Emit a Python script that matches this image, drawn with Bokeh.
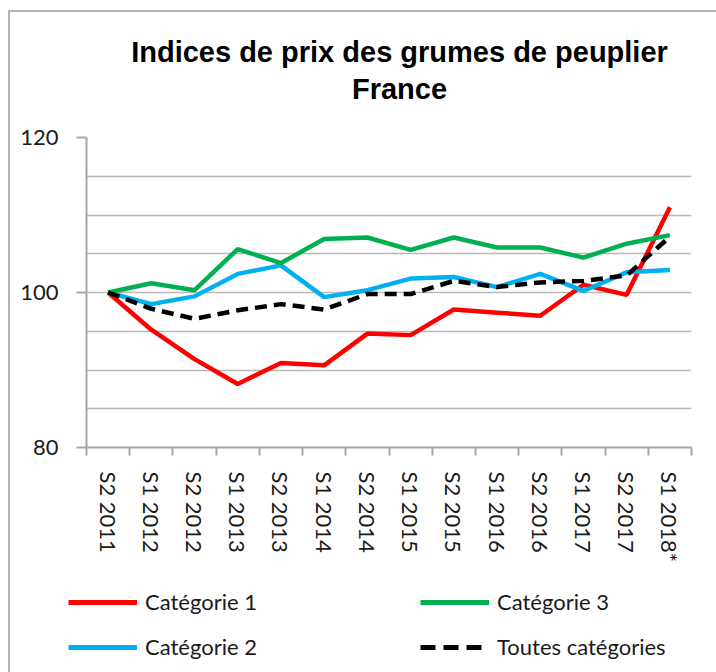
from bokeh.plotting import figure
from bokeh.layouts import column
from bokeh.models import Range1d, FixedTicker, Legend, LegendItem, Label
from bokeh.embed import file_html
from bokeh.resources import INLINE

periods = ["S2 2011", "S1 2012", "S2 2012", "S1 2013", "S2 2013", "S1 2014", "S2 2014",
           "S1 2015", "S2 2015", "S1 2016", "S2 2016", "S1 2017", "S2 2017", "S1 2018*"]
cat1 = [100, 95.2, 91.4, 88.2, 90.9, 90.6, 94.7, 94.5, 97.8, 97.4, 97.0, 101.0, 99.7, 111.0]
cat2 = [100, 98.5, 99.5, 102.4, 103.5, 99.4, 100.3, 101.8, 102.0, 100.7, 102.4, 100.2, 102.6, 102.9]
cat3 = [100, 101.2, 100.3, 105.6, 103.8, 106.9, 107.1, 105.5, 107.1, 105.8, 105.8, 104.5, 106.3, 107.4]
toutes = [100, 97.9, 96.6, 97.7, 98.5, 97.8, 99.8, 99.8, 101.5, 100.7, 101.3, 101.5, 102.2, 107.2]
y_major = [80, 100, 120]
y_minor = [85, 90, 95, 105, 110, 115]
title_text = "Indices de prix des grumes de peuplier\nFrance"

n = len(periods)
x = list(range(n))

W = 706
colors = dict(red="#ff0000", blue="#00b0f0", green="#00b050", black="#000000")
lw = 4.5
dash = "12 7"

# ---- title strip ----
tfig = figure(width=W, height=110, output_backend="svg", toolbar_location=None,
              x_axis_type=None, y_axis_type=None, x_range=Range1d(0, 1), y_range=Range1d(0, 1),
              min_border=0, title=None, frame_align=False)
tfig.outline_line_color = None
tfig.grid.visible = False
tfig.add_layout(Label(x=389, y=52, x_units="screen", y_units="screen", text=title_text,
                      text_align="center", text_baseline="middle", text_font="Liberation Sans",
                      text_font_size="29px", text_font_style="bold", text_color="black",
                      text_line_height=1.145))

# ---- main chart ----
p = figure(width=W, height=463, output_backend="svg", toolbar_location=None,
           x_range=Range1d(-0.5, n - 0.5), y_range=Range1d(80, 120),
           min_border_left=76, min_border_right=25, min_border_top=15,
           min_border_bottom=138, title=None, frame_align=False)
p.outline_line_color = None

p.yaxis.ticker = FixedTicker(ticks=y_major, minor_ticks=y_minor)
p.yaxis.axis_line_color = "#a6a6a6"
p.yaxis.axis_line_width = 2
p.yaxis.major_tick_line_color = "#a6a6a6"
p.yaxis.major_tick_line_width = 2
p.yaxis.major_tick_out = 10
p.yaxis.major_tick_in = 0
p.yaxis.minor_tick_line_color = None
p.yaxis.minor_tick_out = 0
p.yaxis.minor_tick_in = 0
p.yaxis.major_label_text_font = "Lato"
p.yaxis.major_label_text_font_size = "22px"
p.yaxis.major_label_text_color = "#1a1a1a"
p.yaxis.major_label_standoff = 18

p.ygrid.grid_line_color = "#b8b8b8"
p.ygrid.grid_line_width = 1.5
p.ygrid.minor_grid_line_color = "#b8b8b8"
p.ygrid.minor_grid_line_width = 1.5
p.xgrid.grid_line_color = None

p.xaxis.ticker = FixedTicker(ticks=x, minor_ticks=[i - 0.5 for i in range(n + 1)])
p.xaxis.major_label_overrides = {i: lab for i, lab in enumerate(periods)}
p.xaxis.major_label_orientation = "vertical"
p.xaxis.axis_line_color = "#a6a6a6"
p.xaxis.axis_line_width = 2
p.xaxis.major_tick_line_color = None
p.xaxis.major_tick_out = 0
p.xaxis.major_tick_in = 0
p.xaxis.minor_tick_line_color = "#a6a6a6"
p.xaxis.minor_tick_line_width = 2
p.xaxis.minor_tick_out = 8
p.xaxis.minor_tick_in = 0
p.xaxis.major_label_text_font = "Lato"
p.xaxis.major_label_text_font_size = "22px"
p.xaxis.major_label_text_color = "#1a1a1a"
p.xaxis.major_label_standoff = 16

p.line(x, cat1, line_color=colors["red"], line_width=lw)
p.line(x, cat2, line_color=colors["blue"], line_width=lw)
p.line(x, cat3, line_color=colors["green"], line_width=lw)
p.line(x, toutes, line_color=colors["black"], line_width=lw, line_dash=dash)

# ---- legend strip ----
lfig = figure(width=W, height=87, output_backend="svg", toolbar_location=None,
              x_axis_type=None, y_axis_type=None, x_range=Range1d(0, 1), y_range=Range1d(0, 1),
              min_border=0, title=None, frame_align=False)
lfig.outline_line_color = None
lfig.grid.visible = False
nan = [float("nan")]
g1 = lfig.line(nan, nan, line_color=colors["red"], line_width=5)
g2 = lfig.line(nan, nan, line_color=colors["blue"], line_width=5)
g3 = lfig.line(nan, nan, line_color=colors["green"], line_width=5)
g4 = lfig.line(nan, nan, line_color=colors["black"], line_width=5, line_dash="15 8")

common = dict(margin=0, padding=0, border_line_color=None, background_fill_alpha=0,
              label_text_font="Lato", label_text_font_size="22px", label_text_color="#1a1a1a",
              glyph_width=69, glyph_height=24, label_height=24, label_standoff=8, spacing=18)
leg1 = Legend(items=[LegendItem(label="Catégorie 1", renderers=[g1]),
                     LegendItem(label="Catégorie 2", renderers=[g2])],
              location=(58, 12), **common)
leg2 = Legend(items=[LegendItem(label="Catégorie 3", renderers=[g3]),
                     LegendItem(label="Toutes catégories", renderers=[g4])],
              location=(410, 12), **common)
lfig.add_layout(leg1)
lfig.add_layout(leg2)

layout = column(tfig, p, lfig, spacing=0,
                styles={"margin-left": "8px", "margin-top": "10px",
                        "border-left": "2px solid #b3b3b3", "border-top": "2px solid #b3b3b3"})

open("out.html", "w").write(file_html(layout, INLINE))
